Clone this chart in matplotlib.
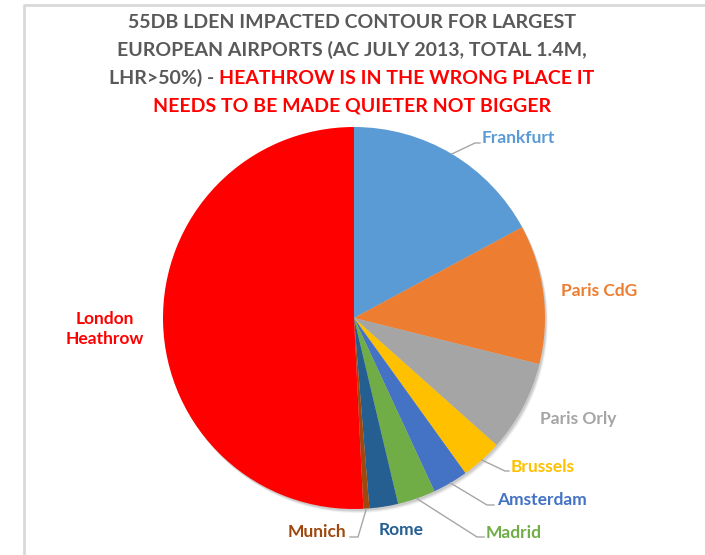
import matplotlib.pyplot as plt
import numpy as np

# impacted population (thousands)
airports = ["Frankfurt", "Paris CdG", "Paris Orly", "Brussels", "Amsterdam",
            "Madrid", "Rome", "Munich", "London\nHeathrow"]
impacted = [240, 165, 108, 49, 42, 45, 34, 7, 712]
colors = ["#5B9BD5", "#ED7D31", "#A5A5A5", "#FFC000", "#4472C4",
          "#70AD47", "#255E91", "#9E480E", "#FF0000"]

title_lines = ["55DB LDEN IMPACTED CONTOUR FOR LARGEST",
               "EUROPEAN AIRPORTS (AC JULY 2013, TOTAL 1.4M,"]
title_mixed = ("LHR>50%) - ", "HEATHROW IS IN THE WRONG PLACE IT")
title_last = "NEEDS TO BE MADE QUIETER NOT BIGGER"

W, H = 705, 555
plt.rcParams['font.family'] = ['Lato', 'DejaVu Sans']


def iy(y):
    # picture rows run downwards
    return H - y


fig = plt.figure(figsize=(7.05, 5.55), dpi=100)
ax = fig.add_axes([0, 0, 1, 1])

cx, cy, r = 354, iy(318), 191

# soft shadow under the pie
for k, a in [(4, 0.05), (3, 0.07), (2, 0.09)]:
    ax.add_patch(plt.Circle((cx + k * 0.7, cy - k), r, color="k", alpha=a, lw=0))

wedges, _ = ax.pie(impacted, colors=colors, startangle=90, counterclock=False,
                   center=(cx, cy), radius=r, frame=True,
                   wedgeprops=dict(linewidth=0))
ax.set_xlim(0, W)
ax.set_ylim(0, H)
ax.axis('off')

# chart border (left and top edges only, the rest is cropped)
ax.plot([24, 24, W], [0, iy(4.5), iy(4.5)], color="#D9D9D9", lw=2, solid_capstyle='butt')

# label layout: text position, alignment, leader elbow (None = no leader)
layout = {
    "Frankfurt": ((482, 138), 'left', (475, 143), (480, 143)),
    "Paris CdG": ((561, 291), 'left', None, None),
    "Paris Orly": ((540, 419), 'left', None, None),
    "Brussels": ((511, 467), 'left', (505, 471), (509, 471)),
    "Amsterdam": ((497, 500), 'left', (487, 505), (494, 505)),
    "Madrid": ((486, 533), 'left', (477, 537), (484, 537)),
    "Rome": ((379, 530), 'left', None, None),
    "Munich": ((346, 532), 'right', (358, 537), (350, 537)),
    "London\nHeathrow": ((105, 329), 'center', None, None),
}

for w, name, col in zip(wedges, airports, colors):
    (tx, ty), ha, elbow, end = layout[name]
    ax.text(tx, iy(ty), name, color=col, fontsize=12.5, fontweight='bold',
            ha=ha, va='center', linespacing=1.25)
    if elbow is not None:
        mid = np.deg2rad((w.theta1 + w.theta2) / 2)
        sx, sy = cx + r * np.cos(mid), cy + r * np.sin(mid)
        ax.plot([sx, elbow[0], end[0]], [sy, iy(elbow[1]), iy(end[1])],
                color="#A6A6A6", lw=1)

# title
tstyle = dict(fontsize=14, fontweight='bold', ha='center', va='center')
ax.text(352, iy(22), title_lines[0], color="#595959", **tstyle)
ax.text(352, iy(50), title_lines[1], color="#595959", **tstyle)
ax.text(352, iy(106), title_last, color="#FF0000", **tstyle)

renderer = fig.canvas.get_renderer()
full = ax.text(352, iy(78), title_mixed[0] + title_mixed[1], alpha=0, **tstyle)
fb = full.get_window_extent(renderer)
ax.text(fb.x0, iy(78), title_mixed[0], color="#595959", fontsize=14,
        fontweight='bold', ha='left', va='center')
ax.text(fb.x1, iy(78), title_mixed[1], color="#FF0000", fontsize=14,
        fontweight='bold', ha='right', va='center')

fig.savefig("out.png", dpi=100)
